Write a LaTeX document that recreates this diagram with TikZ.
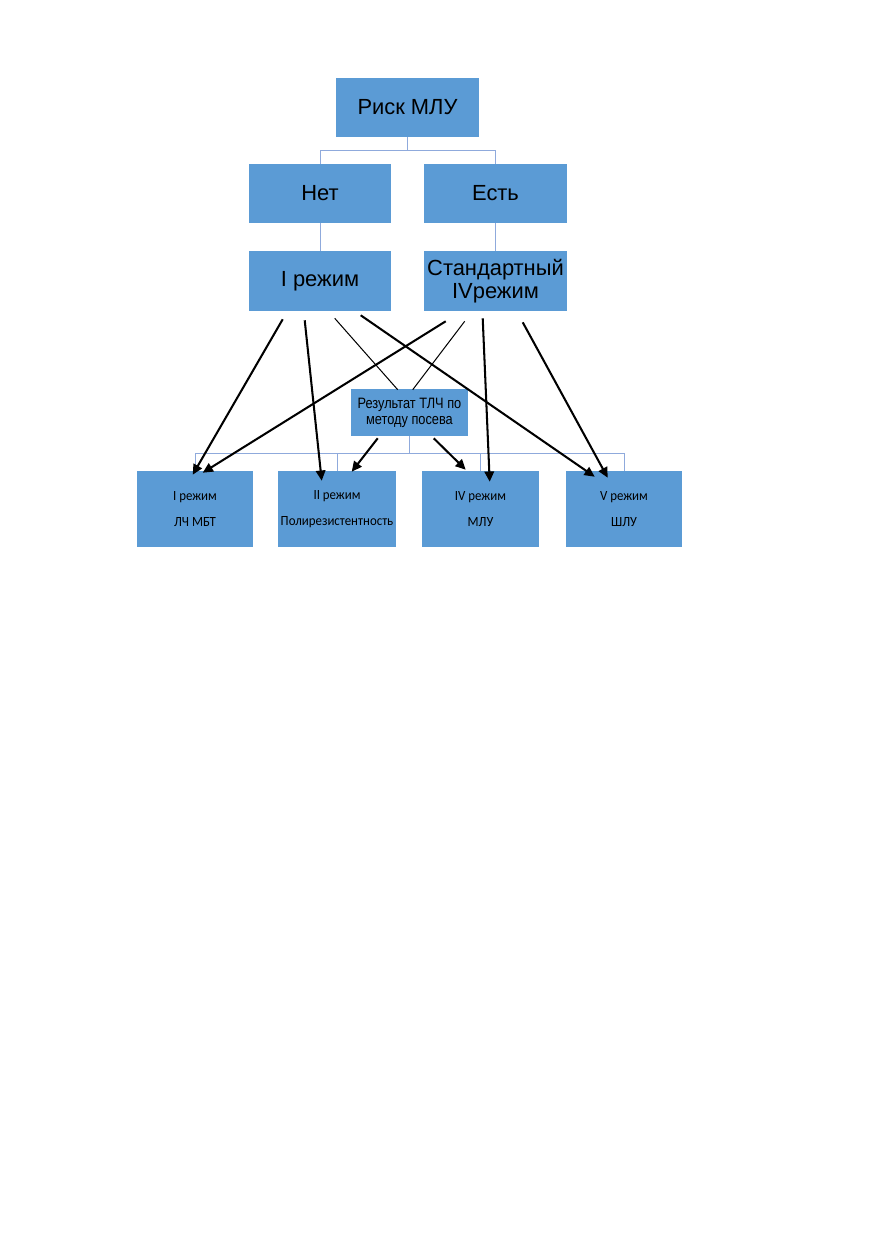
\documentclass[tikz,border=0pt]{standalone}
\usepackage{fontspec}
\newfontfamily\arialfont{Liberation Sans}
\newfontfamily\narrowfont[FakeStretch=0.85]{Liberation Sans}
\newfontfamily\calfont[FakeStretch=0.92]{Carlito}
\usepackage{tikz}
\usetikzlibrary{arrows.meta, calc}
\newdimen\pxu \pxu=0.0240826cm
\definecolor{boxblue}{HTML}{5B9BD5}
\definecolor{connblue}{HTML}{8FAADC}
\tikzset{
  bigbox/.style={fill=boxblue, minimum width=143*\pxu, minimum height=59*\pxu, inner sep=1pt, align=center, font=\arialfont\fontsize{15}{16}\selectfont},
  midbox/.style={fill=boxblue, minimum width=117*\pxu, minimum height=47*\pxu, inner sep=1pt, align=center, font=\narrowfont\fontsize{10.3}{11}\selectfont},
  regbox/.style={fill=boxblue, minimum width=116*\pxu, minimum height=76*\pxu, inner sep=1pt, align=center, font=\calfont\fontsize{9.6}{10}\selectfont},
  conn/.style={draw=connblue, line width=0.6pt},
  thick arrow/.style={draw, line width=1.4pt, -{Triangle[length=7pt, width=6.5pt]}},
  thin line/.style={draw, line width=0.7pt}
}
\begin{document}
\begin{tikzpicture}[x=\pxu, y=-\pxu]
\useasboundingbox (0,0) rectangle (872,1239);
% upper tree
\node[bigbox] (risk) at (407.5,107.5) {Риск МЛУ};
\node[bigbox, minimum width=142*\pxu] (net) at (320,193.5) {Нет};
\node[bigbox] (est) at (495.5,193.5) {Есть};
\node[bigbox, minimum width=142*\pxu, minimum height=60*\pxu] (rezhone) at (320,281) {I режим};
\node[bigbox, minimum height=60*\pxu] (stdrezh) at (495.5,281) {Стандартный\\IVрежим};
\draw[conn] (risk.south) -- ++(0,13.5) coordinate (fork) (fork) -| (net.north) (fork) -| (est.north);
\draw[conn] (net.south) -- (rezhone.north);
\draw[conn] (est.south) -- (stdrezh.north);
% result and regimes
\node[midbox] (tlch) at (409.5,412.5) {\raisebox{-2pt}{Результат ТЛЧ по}\\\raisebox{-2pt}{методу посева}};
\node[regbox] (rone) at (195,509) {I режим\\[8pt]ЛЧ МБТ};
\node[regbox, minimum width=118*\pxu] (rtwo) at (337,509) {II режим\\[8pt]Полирезистентность};
\node[regbox, minimum width=117*\pxu] (rfour) at (480.5,509) {IV режим\\[8pt]МЛУ};
\node[regbox] (rfive) at (624,509) {V режим\\[8pt]ШЛУ};
\draw[conn] (tlch.south) -- ++(0,17) coordinate (forkb) (forkb) -| (rone.north) (forkb) -| (rtwo.north) (forkb) -| (rfour.north) (forkb) -| (rfive.north);
% arrows
\draw[thick arrow] ($(rezhone.south west)+(34,8)$) -- ($(rone.north west)+(56,4)$);
\draw[thick arrow] ($(rezhone.south west)+(56,9)$) -- ($(rtwo.north west)+(44,10)$);
\draw[thin line] ($(rezhone.south west)+(86,7)$) -- ($(tlch.north west)+(47,1)$);
\draw[thick arrow] ($(rezhone.south west)+(112,4)$) -- ($(rfive.north west)+(29,6)$);
\draw[thick arrow] ($(stdrezh.south west)+(22,10)$) -- ($(rone.north west)+(66,2)$);
\draw[thin line] ($(stdrezh.south west)+(41,10)$) -- ($(tlch.north west)+(62,1)$);
\draw[thick arrow] ($(stdrezh.south west)+(59,7)$) -- ($(rfour.north west)+(68,11)$);
\draw[thick arrow] ($(stdrezh.south west)+(99,11)$) -- ($(rfive.north west)+(42,7)$);
\draw[thick arrow] ($(tlch.south west)+(27,2)$) -- ($(rtwo.north west)+(74,1)$);
\draw[thick arrow] ($(tlch.south west)+(83,2)$) -- ($(rfour.north west)+(44,-1)$);
\end{tikzpicture}
\end{document}
